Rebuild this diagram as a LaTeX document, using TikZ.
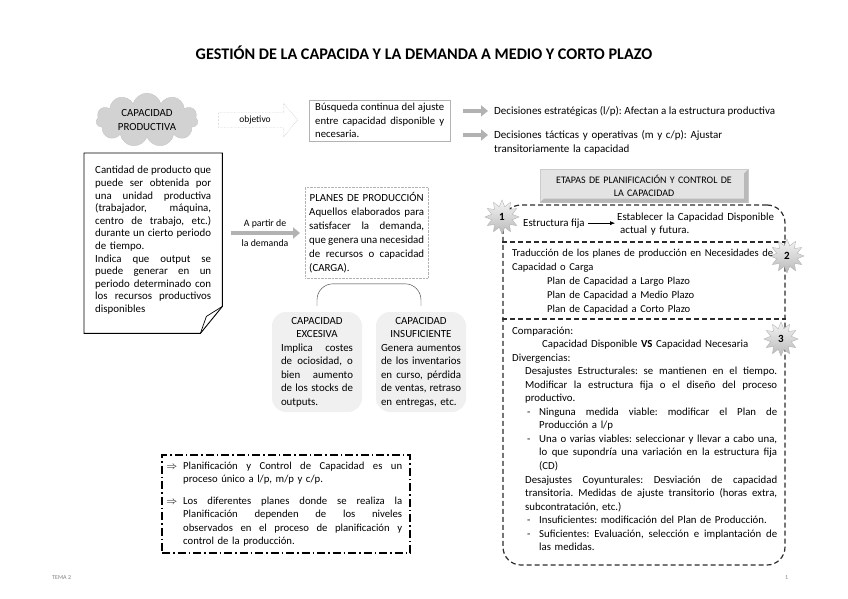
\documentclass[tikz,border=0pt]{standalone}
\usepackage{fontspec}
\setmainfont{Carlito}
\usetikzlibrary{shapes.symbols,shapes.geometric,shapes.arrows,arrows.meta}
\tikzstyle{txt}=[inner sep=0, font=\fontsize{10.9}{13.6}\selectfont]
\tikzstyle{para}=[txt, anchor=base west]
\tikzstyle{grayarrow}=[draw=gray!60, line width=4pt, -{Triangle[length=7pt,width=11pt]}]
\tikzstyle{estrella}=[star, star points=12, star point ratio=1.6, minimum size=34pt, inner sep=0, draw=gray!60, top color=gray!8, bottom color=gray!55, font=\bfseries\fontsize{11}{12}\selectfont]
\tikzstyle{softbox}=[rounded corners=14pt, fill=gray!12, minimum width=90pt, minimum height=100pt, txt, font=\fontsize{10.9}{13.5}\selectfont]
\tikzstyle{stagedash}=[draw=gray!35!black, line width=1.2pt, dash pattern=on 5pt off 3pt]
\newcommand\jl[2][\linewidth]{\makebox[#1][s]{\spaceskip=0pt\xspaceskip=0pt #2}}
\newcommand\cl[1]{\makebox[\linewidth][c]{#1}}

\begin{document}
\frenchspacing
\begin{tikzpicture}[x=1pt,y=-1pt]
\useasboundingbox (0,0) rectangle (848,599);
\node at (424,60)[anchor=base, inner sep=0, font=\bfseries\fontsize{16.2}{18}\selectfont](titulo){GESTIÓN DE LA CAPACIDA Y LA DEMANDA A MEDIO Y CORTO PLAZO};

% capacidad productiva
\node at (147,120)[cloud, cloud puffs=11, aspect=2.2, fill=gray!35, draw=gray!45, minimum width=102, minimum height=48, inner sep=0, align=center, font=\fontsize{10.9}{14.5}\selectfont](nube){CAPACIDAD\\PRODUCTIVA};
\node at (255,120)[single arrow, draw=gray!70, densely dotted, minimum height=79, minimum width=33, single arrow head extend=7.5, single arrow tip angle=100, inner sep=2, font=\fontsize{9.5}{11}\selectfont](objetivo){objetivo};
\node at (309,100)[anchor=north west, draw=gray!60, txt, text width=129, inner xsep=6, inner ysep=3, font=\fontsize{10.7}{13.5}\selectfont](busqueda){\jl{Búsqueda continua del ajuste}\\\jl{entre capacidad disponible y}\\necesaria.};
\node at (494,114)[para, font=\fontsize{11}{14}\selectfont](dec1){Decisiones estratégicas (l/p): Afectan a la estructura productiva};
\node at (494,139)[para, text width=300, font=\fontsize{11}{14}\selectfont](dec2){Decisiones tácticas y operativas (m y c/p): Ajustar\\transitoriamente la capacidad};
\draw[grayarrow] ([xshift=13]busqueda.east |- dec1.west) -- ([xshift=-6]dec1.west);
\draw[grayarrow] ([xshift=13,yshift=4]busqueda.east |- dec2.base) -- ([xshift=-6,yshift=4]dec2.base west);

% definicion
\node at (84,153)[anchor=north west, minimum width=138, minimum height=180, inner xsep=11, inner ysep=0, text width=116, font=\fontsize{10.9}{12.6}\selectfont](doc){\jl{Cantidad de producto que}\\\jl{puede ser obtenida por}\\\jl{una unidad productiva}\\\jl{(trabajador, máquina,}\\\jl{centro de trabajo, etc.)}\\\jl{durante un cierto periodo}\\de tiempo.\\\jl{Indica que output se}\\\jl{puede generar en un}\\\jl{periodo determinado con}\\\jl{los recursos productivos}\\disponibles\vspace*{6pt}};
\draw[line width=0.9pt] (doc.north west) -- (doc.north east) -- ([yshift=27]doc.south east) -- ([xshift=-22]doc.south east) -- (doc.south west) -- cycle;
\draw[line width=0.7pt] ([xshift=-22]doc.south east) .. controls ([xshift=-19,yshift=9]doc.south east) .. ([xshift=-16,yshift=17]doc.south east) -- ([yshift=27]doc.south east);

% planes
\node at (305,187)[anchor=north west, draw=gray!60, densely dotted, txt, text width=115, inner xsep=4, inner ysep=5, font=\fontsize{10.9}{14}\selectfont](planes){\cl{PLANES DE PRODUCCIÓN}\\\jl{Aquellos elaborados para}\\\jl{satisfacer la demanda,}\\\jl{que genera una necesidad}\\\jl{de recursos o capacidad}\\(CARGA).};
\node at (265,226)[txt, anchor=base, font=\fontsize{9.8}{11}\selectfont](apartir){A partir de};
\node at (265,246)[txt, anchor=base, font=\fontsize{9.8}{11}\selectfont](lademanda){la demanda};
\coordinate (ap) at (231,233);
\draw[grayarrow] (ap) -- ([xshift=-5]planes.west |- ap);

\node at (317,362)[softbox, text width=72](exc){\cl{CAPACIDAD}\\\cl{EXCESIVA}\\\jl{Implica costes}\\\jl{de ociosidad, o}\\\jl{bien aumento}\\\jl{de los stocks de}\\outputs.};
\node at (421,362)[softbox, text width=80](ins){\cl{CAPACIDAD}\\\cl{INSUFICIENTE}\\\jl{Genera aumentos}\\\jl{de los inventarios}\\\jl{en curso, pérdida}\\\jl{de ventas, retraso}\\en entregas, etc.};
\draw[gray!40!black, rounded corners=16pt] ([yshift=6]exc.north) -- ++(0,-22) -| ([yshift=6]ins.north);

% notas
\node at (286,504)[draw, line width=1.3pt, dash pattern=on 8pt off 3pt on 1.5pt off 3pt, minimum width=248, minimum height=98](notas){};
\node at (183,469)[para, text width=219, font=\fontsize{10.7}{13.6}\selectfont](nota1){\llap{$\Rightarrow$\hspace{6pt}}\jl{Planificación y Control de Capacidad es un}\\proceso único a l/p, m/p y c/p.};
\node at (183,504)[para, text width=219, font=\fontsize{10.7}{13.6}\selectfont](nota2){\llap{$\Rightarrow$\hspace{6pt}}\jl{Los diferentes planes donde se realiza la}\\\jl{Planificación dependen de los niveles}\\\jl{observados en el proceso de planificación y}\\control de la producción.};

% etapas
\node at (644,186)[minimum width=208, minimum height=33, fill=gray!22, draw=gray!40, txt, text width=200, align=center, font=\fontsize{10}{13}\selectfont](etapas){ETAPAS DE PLANIFICACIÓN Y CONTROL DE\\LA CAPACIDAD};
\fill[gray!55] (etapas.north east) -- (etapas.south east) -- (etapas.south west) -- ([xshift=4,yshift=4]etapas.south west) -- ([xshift=-4,yshift=4]etapas.south east) -- ([xshift=-4,yshift=-4]etapas.north east) -- cycle;
\node at (644,385)[minimum width=282, minimum height=360, rounded corners=18pt, stagedash](etapasbox){};
\coordinate (s1) at (644,242);
\coordinate (s2) at (644,319);
\draw[stagedash] (etapasbox.west |- s1) -- (etapasbox.east |- s1);
\draw[stagedash] (etapasbox.west |- s2) -- (etapasbox.east |- s2);
\node at (502,217)[estrella](e1){1};
\node at (787,256)[estrella](e2){2};
\node at (781,339)[estrella](e3){3};

\node at (523,226)[para](fija){Estructura fija};
\node at (617,220)[para, text width=170](establecer){Establecer la Capacidad Disponible\\\hspace*{3pt}actual y futura.};
\draw[-{Latex[length=5pt,width=4pt]}, shorten <=3pt, shorten >=2pt] (fija.east) -- (fija.east -| establecer.west);

\node at (512,256)[para, text width=262, font=\fontsize{10.6}{14}\selectfont](traduccion){\mbox{Traducción de los planes de producción en Necesidades de}\\Capacidad o Carga\\\hspace*{35pt}Plan de Capacidad a Largo Plazo\\\hspace*{35pt}Plan de Capacidad a Medio Plazo\\\hspace*{35pt}Plan de Capacidad a Corto Plazo};

\node at (512,334)[para, text width=265, font=\fontsize{10.8}{13.55}\selectfont](comparacion){Comparación:\\
\hspace*{30pt}Capacidad Disponible \textbf{VS} Capacidad Necesaria\\
Divergencias:\\
\hspace*{13pt}\jl[252pt]{Desajustes Estructurales: se mantienen en el tiempo.}\\
\hspace*{13pt}\jl[252pt]{Modificar la estructura fija o el diseño del proceso}\\
\hspace*{13pt}productivo.\\
\hspace*{15pt}\makebox[12pt][l]{-}\jl[238pt]{Ninguna medida viable: modificar el Plan de}\\
\hspace*{27pt}Producción a l/p\\
\hspace*{15pt}\makebox[12pt][l]{-}\jl[238pt]{Una o varias viables: seleccionar y llevar a cabo una,}\\
\hspace*{27pt}\jl[238pt]{lo que supondría una variación en la estructura fija}\\
\hspace*{27pt}(CD)\\
\hspace*{13pt}\jl[252pt]{Desajustes Coyunturales: Desviación de capacidad}\\
\hspace*{13pt}\jl[252pt]{transitoria. Medidas de ajuste transitorio (horas extra,}\\
\hspace*{13pt}subcontratación, etc.)\\
\hspace*{15pt}\makebox[12pt][l]{-}Insuficientes: modificación del Plan de Producción.\\
\hspace*{15pt}\makebox[12pt][l]{-}\jl[238pt]{Suficientes: Evaluación, selección e implantación de}\\
\hspace*{27pt}las medidas.};

% pie
\node at (52,579)[anchor=base west, inner sep=0, text=gray, font=\fontsize{6}{7}\selectfont](tema){TEMA 2};
\node at (785,579)[anchor=base west, inner sep=0, text=gray, font=\fontsize{6}{7}\selectfont](pagina){1};
\end{tikzpicture}
\end{document}
